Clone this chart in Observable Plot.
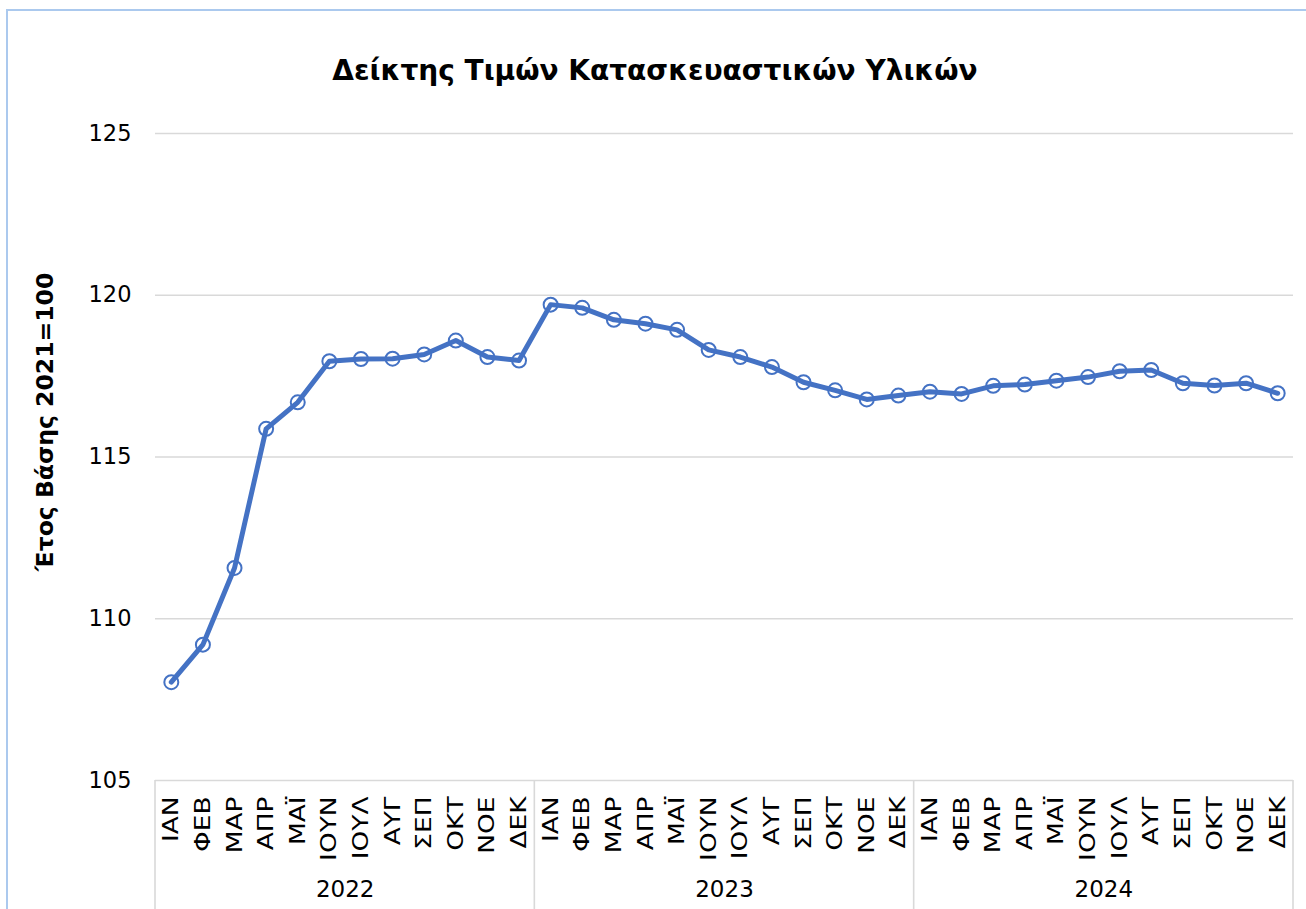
<!DOCTYPE html>
<html><head><meta charset="utf-8">
<script src="https://cdn.jsdelivr.net/npm/d3@7"></script>
<script src="https://cdn.jsdelivr.net/npm/@observablehq/plot@0.6"></script>
<style>
html,body{margin:0;padding:0;background:#fff;}
#wrap{position:relative;width:1306px;height:909px;overflow:hidden;background:#fff;}
#frame{position:absolute;left:6px;top:9px;width:1400px;height:1000px;border:2px solid #abc9ee;box-sizing:border-box;pointer-events:none;}
#chart{position:absolute;left:0;top:0;}
</style></head><body>
<div id="wrap"><div id="chart"></div><div id="frame"></div></div>
<script>
const title = "Δείκτης Τιμών Κατασκευαστικών Υλικών";
const yLabel = "Έτος Βάσης 2021=100";
const months = ["ΙΑΝ","ΦΕΒ","ΜΑΡ","ΑΠΡ","ΜΑΪ","ΙΟΥΝ","ΙΟΥΛ","ΑΥΓ","ΣΕΠ","ΟΚΤ","ΝΟΕ","ΔΕΚ"];
const years = ["2022","2023","2024"];
const values2022 = [108.04,109.20,111.57,115.87,116.69,117.96,118.03,118.04,118.17,118.60,118.09,117.98];
const values2023 = [119.71,119.61,119.24,119.12,118.93,118.31,118.09,117.78,117.31,117.06,116.78,116.90];
const values2024 = [117.02,116.95,117.20,117.24,117.36,117.47,117.65,117.69,117.28,117.21,117.28,116.97];
const yTicks = [105,110,115,120,125];

const series = [values2022, values2023, values2024];
const data = [];
series.forEach((vals, yi) => vals.forEach((v, mi) => data.push({i: yi*12+mi, year: years[yi], month: months[mi], value: v})));
const yearCenters = years.map((y, k) => ({year: y, c: k*12 + 5.5}));
const boundaries = [-0.5, ...years.map((y, k) => k*12 + 11.5)];

const FONT = "'DejaVu Sans', Verdana, sans-serif";
const chart = Plot.plot({
  width: 1306, height: 909,
  marginTop: 133, marginBottom: 129, marginLeft: 155, marginRight: 13,
  style: {fontFamily: FONT, background: "transparent", color: "#000"},
  x: {type: "linear", domain: [-0.5, 35.5]},
  y: {domain: [105, 125]},
  marks: [
    Plot.ruleY(yTicks, {stroke: "#d9d9d9", strokeWidth: 1.6}),
    Plot.axisY(yTicks, {tickSize: 0, tickPadding: 24, fontSize: 22.5, fill: "#000", label: null}),
    Plot.axisX(data.map(d => d.i), {tickSize: 0, tickPadding: 16, tickRotate: -90, fontSize: 22, fill: "#000", tickFormat: i => months[i % 12], label: null}),
    Plot.text(yearCenters, {x: "c", text: "year", frameAnchor: "bottom", dy: 116, fontSize: 23, fill: "#000"}),
    Plot.line(data, {x: "i", y: "value", stroke: "#4472C4", strokeWidth: 5, strokeLinejoin: "round", strokeLinecap: "round"}),
    Plot.dot(data, {x: "i", y: "value", r: 7, stroke: "#4472C4", strokeWidth: 2, fill: "none"})
  ]
});
document.getElementById("chart").appendChild(chart);

const sx = chart.scale("x"), sy = chart.scale("y");
const svg = d3.select(chart);

// stretch month tick labels slightly along their length to match the reference's lettering
svg.selectAll('g[aria-label="x-axis tick label"] text').attr("transform", function() {
  return (this.getAttribute("transform") || "") + " scale(1.2,1)";
});

svg.append("g").attr("stroke", "#d9d9d9").attr("stroke-width", 1.6)
  .selectAll("line").data(boundaries).join("line")
  .attr("x1", d => sx.apply(d)).attr("x2", d => sx.apply(d))
  .attr("y1", sy.apply(105)).attr("y2", 909);

svg.append("text")
  .attr("x", 655).attr("y", 80).attr("text-anchor", "middle")
  .attr("font-family", FONT).attr("font-weight", "bold").attr("font-size", 28)
  .attr("fill", "#000").text(title);

svg.append("text")
  .attr("transform", "translate(53,422) rotate(-90)").attr("text-anchor", "middle")
  .attr("font-family", FONT).attr("font-weight", "bold").attr("font-size", 23.5)
  .attr("fill", "#000").text(yLabel);
</script>
</body></html>
